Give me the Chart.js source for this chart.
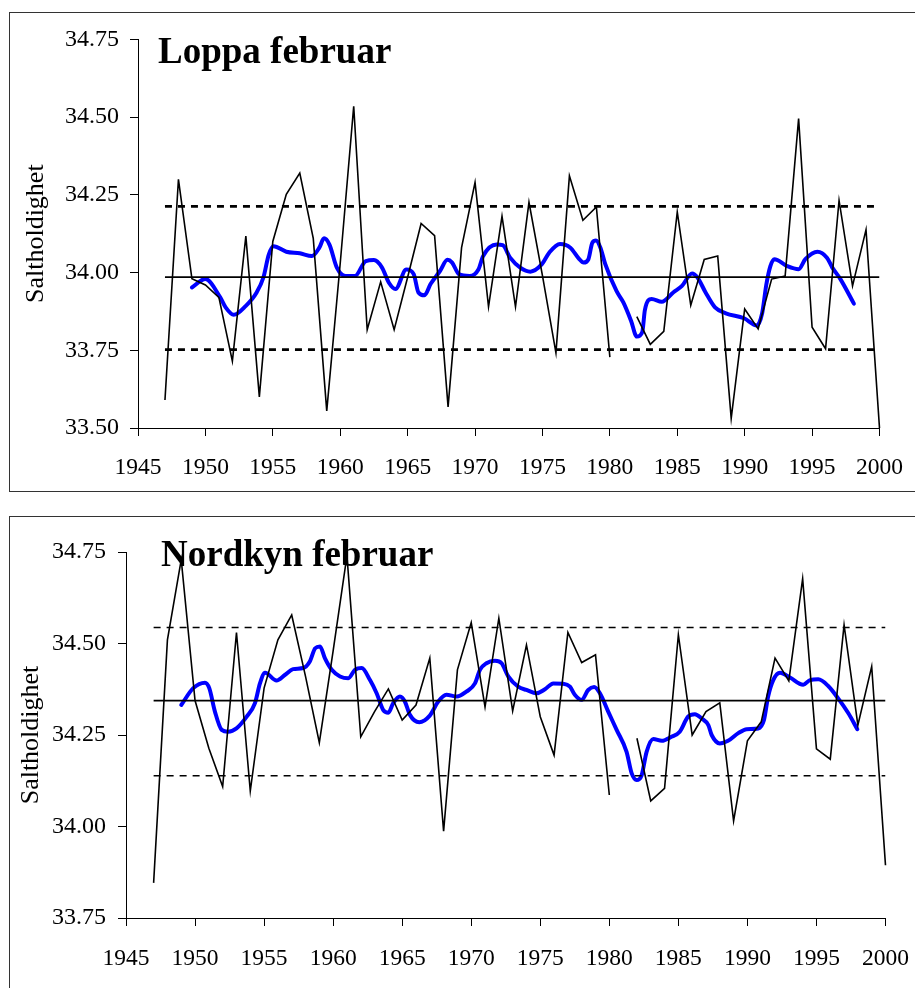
<!DOCTYPE html>
<html>
<head>
<meta charset="utf-8">
<script src="https://cdn.jsdelivr.net/npm/chart.js@4.4.0/dist/chart.umd.min.js"></script>
<style>
  body { margin: 0; background: #fff; width: 915px; height: 988px; overflow: hidden; position: relative; }
  .box { position: absolute; left: 9px; width: 930px; border: 1.5px solid #333; box-sizing: border-box; }
  #box1 { top: 12px; height: 480px; }
  #box2 { top: 516px; height: 500px; }
  canvas { position: absolute; }
  #loppaChart { left: 11px; top: 14px; }
  #nordkynChart { left: 11px; top: 518px; }
</style>
</head>
<body>
<div class="box" id="box1"></div>
<div class="box" id="box2"></div>
<canvas id="loppaChart" width="910" height="475"></canvas>
<canvas id="nordkynChart" width="917" height="468"></canvas>
<script>
// år for de målte verdiene
const years = [1947, 1948, 1949, 1950, 1951, 1952, 1953, 1954, 1955, 1956,
  1957, 1958, 1959, 1960, 1961, 1962, 1963, 1964, 1965, 1966,
  1967, 1968, 1969, 1970, 1971, 1972, 1973, 1974, 1975, 1976,
  1977, 1978, 1979, 1980, 1981, 1982, 1983, 1984, 1985, 1986,
  1987, 1988, 1989, 1990, 1991, 1992, 1993, 1994, 1995, 1996,
  1997, 1998, 1999, 2000];

// Loppa februar - saltholdighet
const loppaSalt = [33.59, 34.30, 33.98, 33.96, 33.92, 33.715, 34.117, 33.60, 34.10, 34.252,
  34.32, 34.11, 33.555, 34.03, 34.535, 33.816, 33.97, 33.816, 33.985, 34.158,
  34.119, 33.568, 34.08, 34.29, 33.89, 34.181, 33.89, 34.226, 33.99, 33.742,
  34.311, 34.168, 34.211, 33.728, null, 33.858, 33.769, 33.811, 34.195, 33.895,
  34.042, 34.053, 33.531, 33.883, 33.819, 33.979, 33.989, 34.495, 33.824, 33.755,
  34.232, 33.957, 34.138, 33.50];

// Nordkyn februar - saltholdighet
const nordkynSalt = [33.846, 34.51, 34.729, 34.344, 34.214, 34.109, 34.53, 34.097, 34.378, 34.51,
  34.578, 34.41, 34.229, 34.48, 34.74, 34.245, 34.314, 34.376, 34.291, 34.332,
  34.46, 33.987, 34.428, 34.557, 34.327, 34.569, 34.316, 34.496, 34.30, 34.195,
  34.53, 34.448, 34.469, 34.086, null, 34.241, 34.07, 34.104, 34.524, 34.25,
  34.314, 34.338, 34.015, 34.234, 34.286, 34.46, 34.398, 34.677, 34.212, 34.184,
  34.551, 34.277, 34.437, 33.894];

// glattet kurve (blå), Loppa
const loppaSmoothYears = [1949.0, 1950.0, 1951.1, 1951.5, 1952.1, 1953.0, 1953.8, 1954.3, 1954.7, 1955.05,
  1956.0, 1957.0, 1957.9, 1958.45, 1958.8, 1959.2, 1959.75, 1960.4, 1961.1, 1961.9,
  1962.5, 1963.1, 1963.6, 1964.1, 1964.9, 1965.45, 1965.8, 1966.25, 1966.7, 1967.4,
  1967.95, 1968.3, 1968.8, 1969.6, 1970.25, 1970.6, 1971.6, 1972.05, 1972.6, 1973.35,
  1974.1, 1974.96, 1975.5, 1976.3, 1977.07, 1977.7, 1978.05, 1978.4, 1978.7, 1978.97,
  1979.3, 1979.66, 1980.5, 1981.0, 1981.57, 1982.0, 1982.4, 1982.6, 1983.1, 1983.85,
  1984.7, 1985.35, 1986.1, 1986.5, 1987.1, 1987.8, 1988.6, 1989.95, 1990.9, 1991.3,
  1991.6, 1991.9, 1992.2, 1993.15, 1994.0, 1994.5, 1995.4, 1996.1, 1996.5, 1997.1, 1998.1];
const loppaSmooth = [33.952, 33.979, 33.92, 33.888, 33.864, 33.893, 33.936, 33.984, 34.058, 34.085,
  34.067, 34.062, 34.053, 34.08, 34.11, 34.09, 34.016, 33.989, 33.989, 34.037,
  34.04, 34.016, 33.968, 33.947, 34.01, 33.995, 33.936, 33.927, 33.963, 34.005,
  34.041, 34.032, 33.995, 33.989, 34.01, 34.053, 34.09, 34.088, 34.048, 34.016,
  34.003, 34.027, 34.064, 34.092, 34.08, 34.045, 34.032, 34.042, 34.096, 34.103,
  34.08, 34.027, 33.94, 33.904, 33.845, 33.794, 33.808, 33.88, 33.915, 33.906,
  33.936, 33.957, 33.997, 33.984, 33.936, 33.888, 33.869, 33.853, 33.83, 33.87,
  33.96, 34.02, 34.043, 34.021, 34.011, 34.043, 34.067, 34.048, 34.016, 33.979, 33.90];

// glattet kurve (blå), Nordkyn
const nordkynSmoothYears = [1949.0, 1949.87, 1950.72, 1951.03, 1951.44, 1951.93, 1952.4, 1953.0, 1953.74, 1954.34,
  1954.7, 1955.07, 1955.9, 1956.5, 1957.1, 1957.84, 1958.3, 1958.7, 1959.05, 1959.4,
  1959.9, 1960.5, 1961.1, 1961.58, 1962.07, 1962.67, 1963.15, 1963.63, 1964.0, 1964.35,
  1964.84, 1965.2, 1965.56, 1966.24, 1967.0, 1967.6, 1968.2, 1968.95, 1969.67, 1970.27,
  1970.63, 1971.1, 1971.72, 1972.2, 1972.68, 1973.4, 1974.0, 1974.74, 1975.34, 1975.94,
  1976.66, 1977.15, 1977.5, 1978.0, 1978.47, 1978.9, 1979.32, 1979.92, 1980.53, 1981.25,
  1981.62, 1981.98, 1982.34, 1982.7, 1983.18, 1983.8, 1984.5, 1985.1, 1985.7, 1986.2,
  1986.69, 1987.17, 1987.41, 1988.0, 1988.6, 1989.34, 1989.95, 1990.79, 1991.2, 1991.5,
  1991.87, 1992.36, 1993.08, 1994.04, 1994.53, 1995.13, 1995.85, 1996.57, 1997.3, 1997.96];
const nordkynSmooth = [34.332, 34.378, 34.393, 34.378, 34.314, 34.264, 34.259, 34.268, 34.30, 34.337,
  34.391, 34.42, 34.399, 34.414, 34.43, 34.433, 34.45, 34.487, 34.492, 34.46,
  34.428, 34.41, 34.405, 34.428, 34.433, 34.40, 34.364, 34.318, 34.311, 34.337,
  34.355, 34.341, 34.305, 34.285, 34.303, 34.341, 34.36, 34.355, 34.369, 34.391,
  34.428, 34.446, 34.453, 34.446, 34.41, 34.382, 34.373, 34.364, 34.375, 34.391,
  34.39, 34.382, 34.36, 34.346, 34.373, 34.381, 34.364, 34.314, 34.264, 34.204,
  34.145, 34.127, 34.14, 34.204, 34.239, 34.234, 34.245, 34.259, 34.30, 34.307,
  34.295, 34.277, 34.25, 34.227, 34.234, 34.255, 34.266, 34.268, 34.291, 34.355,
  34.40, 34.42, 34.407, 34.387, 34.40, 34.402, 34.384, 34.35, 34.31, 34.266];

// middel og +/- standardavvik
const loppaMean = 33.985, loppaUpper = 34.213, loppaLower = 33.752;
const nordkynMean = 34.344, nordkynUpper = 34.544, nordkynLower = 34.139;
const lineStart = 1947, lineEnd = 2000;

const loppaTicks = [33.50, 33.75, 34.00, 34.25, 34.50, 34.75];
const nordkynTicks = [33.75, 34.00, 34.25, 34.50, 34.75];

const serif = '"Liberation Serif", "Times New Roman", serif';

// tekst inne i plottet
const panelTitle = {
    id: 'panelTitle',
    afterDraw(chart, args, opts) {
        const ctx = chart.ctx;
        ctx.save();
        ctx.font = 'bold 37px ' + serif;
        ctx.fillStyle = '#000';
        ctx.textBaseline = 'alphabetic';
        ctx.fillText(opts.text, opts.x, opts.y);
        ctx.restore();
    }
};

function flatLine(value, dash, width) {
    return {
        data: [{ x: lineStart, y: value }, { x: lineEnd, y: value }],
        borderColor: '#000',
        borderWidth: width,
        borderDash: dash,
        pointRadius: 0
    };
}

function makeChart(id, p) {
    const ctx = document.getElementById(id).getContext('2d');
    return new Chart(ctx, {
        type: 'line',
        data: {
            datasets: [
                flatLine(p.upper, p.dash, p.dashWidth),
                flatLine(p.lower, p.dash, p.dashWidth),
                flatLine(p.mean, [], 1.8),
                {
                    data: years.map((y, i) => ({ x: y, y: p.values[i] })),
                    borderColor: '#000',
                    borderWidth: 1.6,
                    pointRadius: 0,
                    spanGaps: false,
                    clip: false
                },
                {
                    data: p.smoothYears.map((y, i) => ({ x: y, y: p.smooth[i] })),
                    borderColor: 'rgb(0, 0, 255)',
                    borderWidth: 4,
                    pointRadius: 0,
                    cubicInterpolationMode: 'monotone',
                    borderCapStyle: 'round',
                    borderJoinStyle: 'round'
                }
            ]
        },
        options: {
            responsive: false,
            animation: false,
            layout: {
                autoPadding: false,
                padding: { top: p.padTop, right: 0, left: 0, bottom: 0 }
            },
            plugins: {
                legend: { display: false },
                tooltip: { enabled: false },
                panelTitle: { text: p.title, x: p.titleX, y: p.titleY }
            },
            scales: {
                x: {
                    type: 'linear',
                    min: 1945,
                    max: 2000,
                    ticks: {
                        stepSize: 5,
                        color: '#000',
                        padding: p.xPad,
                        maxRotation: 0,
                        font: { family: serif, size: 23.5 },
                        callback: v => String(v)
                    },
                    grid: { drawOnChartArea: false, tickLength: 8, color: '#000' },
                    border: { color: '#000', width: 1 },
                    afterFit: s => { s.height = p.xHeight; }
                },
                y: {
                    min: p.ticks[0],
                    max: p.ticks[p.ticks.length - 1],
                    afterBuildTicks: s => { s.ticks = p.ticks.map(v => ({ value: v })); },
                    ticks: {
                        color: '#000',
                        padding: p.yPad,
                        font: { family: serif, size: 24 },
                        callback: v => v.toFixed(2)
                    },
                    grid: { drawOnChartArea: false, tickLength: 8, color: '#000' },
                    border: { color: '#000', width: 1 },
                    title: {
                        display: true,
                        text: 'Saltholdighet',
                        color: '#000',
                        font: { family: serif, size: 26 },
                        padding: { top: p.titlePad, bottom: 0 }
                    },
                    afterFit: s => { s.width = p.yWidth; }
                }
            }
        },
        plugins: [panelTitle]
    });
}

const loppaChart = makeChart('loppaChart', {
    values: loppaSalt, smoothYears: loppaSmoothYears, smooth: loppaSmooth,
    mean: loppaMean, upper: loppaUpper, lower: loppaLower,
    dash: [7, 6], dashWidth: 2.6, ticks: loppaTicks,
    title: 'Loppa februar', titleX: 147, titleY: 49,
    padTop: 23, xHeight: 61, yWidth: 127, yPad: 11, xPad: 18, titlePad: 10
});

const nordkynChart = makeChart('nordkynChart', {
    values: nordkynSalt, smoothYears: nordkynSmoothYears, smooth: nordkynSmooth,
    mean: nordkynMean, upper: nordkynUpper, lower: nordkynLower,
    dash: [7, 6], dashWidth: 1.5, ticks: nordkynTicks,
    title: 'Nordkyn februar', titleX: 150, titleY: 48,
    padTop: 34, xHeight: 68, yWidth: 115, yPad: 12, xPad: 19, titlePad: 5
});
</script>
</body>
</html>
